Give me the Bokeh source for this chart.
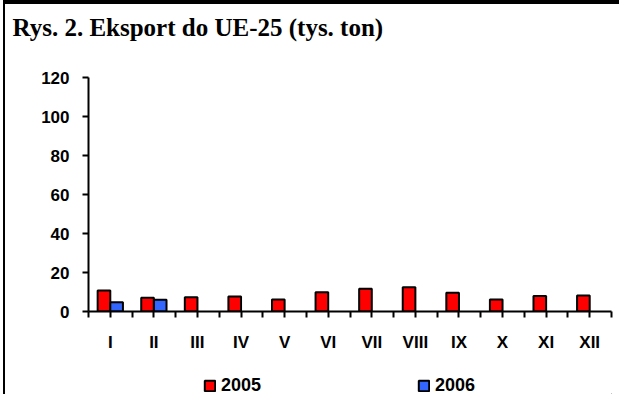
from bokeh.plotting import figure
from bokeh.layouts import column
from bokeh.models import (FixedTicker, Legend, LegendItem, ColumnDataSource, Range1d)
from bokeh.transform import dodge
from bokeh.embed import file_html
from bokeh.resources import INLINE

months = ["I", "II", "III", "IV", "V", "VI", "VII", "VIII", "IX", "X", "XI", "XII"]
export_2005 = [10.8, 7.0, 7.3, 7.7, 6.2, 9.9, 11.7, 12.5, 9.6, 6.2, 7.9, 8.2]
export_2006 = [4.8, 6.0]
y_ticks = [0, 20, 40, 60, 80, 100, 120]
series_names = ["2005", "2006"]
series_colors = ["#FF0000", "#3366FF"]
title_text = "Rys. 2. Eksport do UE-25 (tys. ton)"

BAR_W = 0.29
W = 614
LEFT = 83
RIGHT = 8


def bare(fig):
    fig.xgrid.visible = False
    fig.ygrid.visible = False
    fig.outline_line_color = None


# title strip
p0 = figure(width=W, height=46, output_backend="svg", toolbar_location=None,
            x_range=Range1d(0, 1), y_range=Range1d(0, 1),
            x_axis_type=None, y_axis_type=None,
            min_border_left=LEFT, min_border_right=RIGHT, min_border_top=0, min_border_bottom=0)
bare(p0)
p0.title.text = title_text
p0.title.text_font = "Liberation Serif"
p0.title.text_font_size = "25px"
p0.title.text_font_style = "bold"
p0.title.text_color = "black"
p0.title.align = "left"
p0.title.offset = -76
p0.title.standoff = 15

# main chart
src05 = ColumnDataSource(dict(x=[i + 0.5 for i in range(len(months))], y=export_2005))
src06 = ColumnDataSource(dict(x=[i + 0.5 for i in range(len(export_2006))], y=export_2006))

p = figure(width=W, height=310, output_backend="svg", toolbar_location=None,
           x_range=Range1d(0, len(months)), y_range=Range1d(0, 120),
           min_border_left=LEFT, min_border_right=RIGHT, min_border_top=27, min_border_bottom=49)
bare(p)

p.vbar(x=dodge("x", -BAR_W / 2), top="y", width=BAR_W, source=src05,
       fill_color=series_colors[0], line_color="black", line_width=2)
p.vbar(x=dodge("x", BAR_W / 2), top="y", width=BAR_W, source=src06,
       fill_color=series_colors[1], line_color="black", line_width=2)

xt = [i * 0.5 for i in range(2 * len(months) + 1)]
overrides = {}
for t in xt:
    overrides[t] = ""
for i, m in enumerate(months):
    overrides[i + 0.5] = m
p.xaxis.ticker = FixedTicker(ticks=xt)
p.xaxis.major_label_overrides = overrides
p.yaxis.ticker = FixedTicker(ticks=y_ticks)

for ax in (p.xaxis[0], p.yaxis[0]):
    ax.axis_line_width = 2
    ax.axis_line_color = "black"
    ax.major_tick_line_width = 2
    ax.major_tick_line_color = "black"
    ax.major_tick_out = 6
    ax.major_tick_in = 0
    ax.minor_tick_line_color = None
    ax.major_label_text_font = "Liberation Sans"
    ax.major_label_text_font_style = "bold"
    ax.major_label_text_font_size = "17px"
    ax.major_label_text_color = "black"
p.xaxis.major_label_standoff = 15
p.yaxis.major_label_standoff = 13

# legend strip (separate figure so the legend is not clipped by the chart frame)
p2 = figure(width=W, height=34, output_backend="svg", toolbar_location=None,
            x_range=Range1d(0, 1), y_range=Range1d(0, 1),
            x_axis_type=None, y_axis_type=None,
            min_border_left=LEFT, min_border_right=RIGHT, min_border_top=0, min_border_bottom=0)
bare(p2)
items = []
for name, col in zip(series_names, series_colors):
    hidden = ColumnDataSource(dict(x=[5.0], y=[0.0]))
    r = p2.vbar(x="x", top="y", width=0.1, source=hidden,
                fill_color=col, line_color="black", line_width=2)
    items.append(LegendItem(label=name, renderers=[r]))

legend = Legend(items=items, orientation="horizontal", location=(115, -2), spacing=156,
                padding=0, margin=0, glyph_width=13, glyph_height=13,
                label_standoff=5, label_height=13,
                label_text_font="Liberation Sans", label_text_font_size="18px",
                label_text_font_style="bold", label_text_color="black",
                border_line_color=None, background_fill_alpha=0)
p2.add_layout(legend)

layout = column(p0, p, p2, spacing=0)
layout.styles = {"border-top": "4px solid black", "border-left": "2px solid black",
                 "margin-left": "3px"}

open("out.html", "w").write(file_html(layout, INLINE))
